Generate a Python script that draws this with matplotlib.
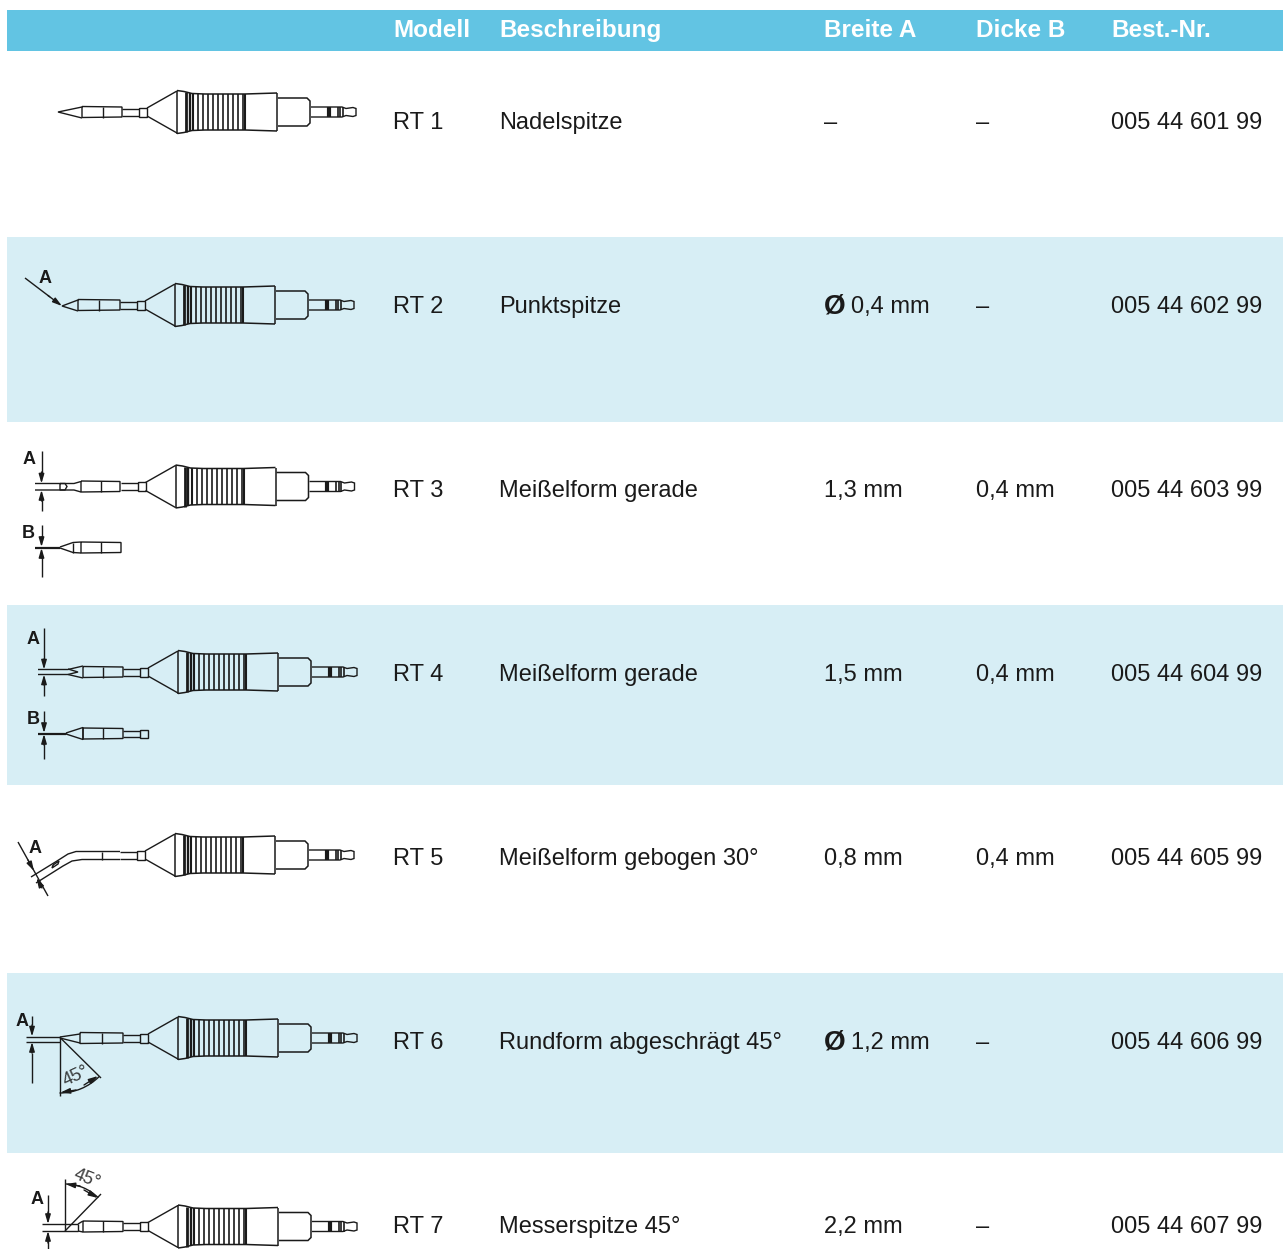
import numpy as np
import matplotlib
matplotlib.use('Agg')
import matplotlib.pyplot as plt
from matplotlib.patches import Arc

headers = ['Modell', 'Beschreibung', 'Breite A', 'Dicke B', 'Best.-Nr.']
modelle = ['RT 1', 'RT 2', 'RT 3', 'RT 4', 'RT 5', 'RT 6', 'RT 7']
beschreibung = ['Nadelspitze', 'Punktspitze', 'Meißelform gerade', 'Meißelform gerade',
                'Meißelform gebogen 30°', 'Rundform abgeschrägt 45°', 'Messerspitze 45°']
breite = ['–', 'Ø 0,4 mm', '1,3 mm', '1,5 mm', '0,8 mm', 'Ø 1,2 mm', '2,2 mm']
dicke = ['–', '–', '0,4 mm', '0,4 mm', '0,4 mm', '–', '–']
bestnr = ['005 44 601 99', '005 44 602 99', '005 44 603 99', '005 44 604 99',
          '005 44 605 99', '005 44 606 99', '005 44 607 99']

# layout in pixels of the page
col_x = [393, 499, 824, 976, 1111]
text_y = [129, 313, 497, 681, 865, 1049, 1233]
bands = [(237, 421.5), (605, 784.5), (973, 1152.5)]
tool_dx = [0, -2, -1.5, 1, -2, 1, 1]
tool_y = [112, 305, 486.5, 672, 855, 1038, 1226.5]

HEAD = '#62c4e3'
BAND = '#d7eef5'
INK = '#1a1a1a'
FONT = 'Liberation Sans'
SIZE = 17
LW = 1.0

fig = plt.figure(figsize=(12.86, 12.49), dpi=100)
ax = fig.add_axes([0, 0, 1, 1])
ax.set_xlim(0, 1286)
ax.set_ylim(1249, 0)
ax.axis('off')


def line(xs, ys, lw=LW, color=INK):
    ax.plot(xs, ys, color=color, lw=lw, solid_capstyle='butt', solid_joinstyle='miter')


def arrow(x0, y0, x1, y1):
    ax.annotate('', xy=(x1, y1), xytext=(x0, y0),
                arrowprops=dict(arrowstyle='-|>,head_length=0.55,head_width=0.16', color=INK,
                                lw=LW, shrinkA=0, shrinkB=0, mutation_scale=10))


def label(x, y, s):
    ax.text(x, y, s, family=FONT, weight='bold', fontsize=13, color=INK, ha='center', va='center')


def section(x0, x1, xm, cy, h=5.5):
    # the sleeve just behind the tip
    line([x0, x1, x1, x0, x0], [cy - h, cy - h + 0.5, cy + h - 0.5, cy + h, cy - h])
    line([xm, xm], [cy - h, cy + h])


def tool(dx, cy):
    # neck and collar
    line(np.array([122, 139]) + dx, [cy - 3.5, cy - 3.5])
    line(np.array([122, 139]) + dx, [cy + 3.5, cy + 3.5])
    line(np.array([139, 147, 147, 139, 139]) + dx, [cy - 4.5, cy - 4.5, cy + 4.5, cy + 4.5, cy - 4.5])
    # cone to the handle
    line(np.array([147, 177]) + dx, [cy - 4, cy - 21])
    line(np.array([147, 177]) + dx, [cy + 4, cy + 21])
    # handle outline
    hx = np.array([177, 184, 192, 205, 245, 277, 277])
    hh = np.array([21.5, 20.5, 18.5, 18, 18, 19, 19])
    line(hx + dx, cy - hh, lw=1.1)
    line(hx + dx, cy + hh, lw=1.1)
    line(np.array([177, 177]) + dx, [cy - 21.5, cy + 21.5], lw=1.1)
    line(np.array([277, 277]) + dx, [cy - 19, cy + 19], lw=1.1)
    # ribs
    rib_x = [186, 189.5, 193, 198, 203, 208, 213, 218, 223, 228, 233, 238, 243, 245]
    rib_w = [2.0, 1.7, 1.5, 1.2, 1.2, 1.2, 1.2, 1.2, 1.2, 1.2, 1.2, 1.2, 1.2, 1.5]
    for x, w in zip(rib_x, rib_w):
        h = np.interp(x, hx[:-1], hh[:-1])
        line([x + dx, x + dx], [cy - h, cy + h], lw=w)
    # body
    line(np.array([278, 307, 310, 310, 307, 278]) + dx,
         [cy - 14, cy - 14, cy - 11, cy + 11, cy + 14, cy + 14], lw=1.1)
    # plug
    line(np.array([311, 342, 346, 353, 356, 356, 353, 346, 342, 311]) + dx,
         [cy - 5, cy - 5, cy - 3.5, cy - 4.5, cy - 3.5, cy + 3.5, cy + 4.5, cy + 3.5, cy + 5, cy + 5])
    line(np.array([328.5, 328.5]) + dx, [cy - 5, cy + 5], lw=3)
    line(np.array([337.5, 337.5]) + dx, [cy - 5, cy + 5], lw=1.2)
    line(np.array([340, 340]) + dx, [cy - 5, cy + 5], lw=1.2)
    line(np.array([342.5, 342.5]) + dx, [cy - 5, cy + 5], lw=1.2)


# background bands
ax.fill_between([7, 1283], 10, 51, color=HEAD, lw=0)
for top, bottom in bands:
    ax.fill_between([7, 1283], top, bottom, color=BAND, lw=0)

# header row
for x, s in zip(col_x, headers):
    ax.text(x, 37, s, family=FONT, weight='bold', fontsize=17.5, color='white', ha='left', va='baseline')

# table body
for i in range(len(modelle)):
    y = text_y[i]
    kw = dict(family=FONT, fontsize=SIZE, color=INK, ha='left', va='baseline')
    ax.text(col_x[0], y, modelle[i], **kw)
    ax.text(col_x[1], y, beschreibung[i], **kw)
    if breite[i].startswith('Ø'):
        ax.text(col_x[2], y + 0.5, 'Ø', family=FONT, weight='bold', fontsize=SIZE + 3, color=INK,
                ha='left', va='baseline')
        ax.text(col_x[2] + 27, y, breite[i][2:], **kw)
    else:
        ax.text(col_x[2], y, breite[i], **kw)
    ax.text(col_x[3], y, dicke[i], **kw)
    ax.text(col_x[4], y, bestnr[i], **kw)
    tool(tool_dx[i], tool_y[i])

# RT 1 needle tip
cy = tool_y[0]
line([82, 58, 82], [cy - 5, cy, cy + 6])
section(82, 122, 103, cy)

# RT 2 point tip
cy = tool_y[1]
line([78, 62, 78], [cy - 5, cy + 1, cy + 6])
section(78, 120, 99, cy)
line([25, 50], [278, 297])
arrow(48, 295.5, 62, 306)
label(45, 278, 'A')

# RT 3 chisel, view A and B
cy = tool_y[2]
line([35, 74, 81], [cy - 3, cy - 3, cy - 5])
line([35, 74, 81], [cy + 3.5, cy + 3.5, cy + 5.5])
line([60, 65, 67, 65, 60, 60], [cy - 3, cy - 3, cy, cy + 3.5, cy + 3.5, cy - 3])
section(81, 120, 101, cy)
line([41.5, 41.5], [451, 476])
arrow(41.5, 472, 41.5, cy - 3)
line([41.5, 41.5], [497, 511])
arrow(41.5, 501, 41.5, cy + 3.5)
label(29, 459, 'A')
line([35, 60], [547.5, 547.5], lw=1.6)
line([60, 73, 81], [547, 542.5, 542])
line([60, 73, 81], [548, 552.5, 553])
section(81, 121, 101, 547.5)
line([73, 73], [542.5, 552.5])
line([41.5, 41.5], [525, 540])
arrow(41.5, 537, 41.5, 547)
line([41.5, 41.5], [555, 577])
arrow(41.5, 558, 41.5, 548)
label(28, 533, 'B')

# RT 4 chisel, view A and B
cy = tool_y[3]
line([38, 68, 83], [cy - 2.5, cy - 2.5, cy - 6])
line([38, 68, 83], [cy + 2.5, cy + 2.5, cy + 6])
line([68, 78, 68], [cy - 3, cy, cy + 2.5])
section(83, 123, 103, cy)
line([44, 44], [628, 660])
arrow(44, 659, 44, cy - 2.5)
line([44, 44], [682, 696])
arrow(44, 685, 44, cy + 2.5)
label(33, 639, 'A')
line([38, 66], [733.5, 733.5], lw=1.6)
line([66, 83, 83, 66], [733, 727.5, 739.5, 734])
section(83, 123, 103, 733.5)
line([123, 140], [730.5, 730.5])
line([123, 140], [737, 737])
line([140, 148, 148, 140, 140], [729.5, 729.5, 738, 738, 729.5])
line([44, 44], [711, 722])
arrow(44, 724, 44, 733)
line([44, 44], [743, 759])
arrow(44, 745, 44, 734)
label(33, 719, 'B')

# RT 5 bent tip
cy = tool_y[4]
line([31, 57, 68, 76, 120], [877, 861, 854, 851.5, 851.5])
line([36, 63, 72, 82, 120], [883, 866, 861, 859.5, 859.5])
line([102, 102], [851.5, 859.5])
line([53, 59, 58, 52, 53], [865, 861, 864, 868, 865])
line([18, 48], [842, 896])
arrow(28, 860, 34, 871)
arrow(42, 888, 36.5, 878)
label(35, 848, 'A')

# RT 6 bevelled round tip
cy = tool_y[5]
line([26, 60], [1036.5, 1036.5])
line([26, 60], [1042, 1042])
line([60, 80], [1037, 1034])
line([60, 80], [1038, 1043])
section(80, 123, 102, cy)
line([32, 32], [1016, 1025])
arrow(32, 1025, 32, 1036.5)
line([32, 32], [1053, 1083])
arrow(32, 1053, 32, 1042)
label(22, 1021, 'A')
line([59.5, 59.5], [1037, 1096])
line([59.5, 101], [1037, 1078])
ax.add_patch(Arc((59.5, 1037), 112, 112, theta1=45, theta2=90, color=INK, lw=LW))
arrow(76, 1090, 60.5, 1092.5)
arrow(84, 1085, 98, 1076)
ax.text(76, 1076, '45°', family=FONT, fontsize=13, color=INK, rotation=25,
        ha='center', va='center', alpha=0.85)

# RT 7 knife tip
cy = tool_y[6]
line([42, 78], [1224, 1224])
line([42, 78], [1231, 1231])
line([78, 83], [1224, 1221])
line([78, 83], [1231, 1232])
line([78, 78], [1224, 1231])
section(83, 123, 103, cy)
line([48, 48], [1195, 1214])
arrow(48, 1212, 48, 1224)
line([48, 48], [1240, 1249])
arrow(48, 1243, 48, 1231)
label(37, 1200, 'A')
line([65, 65], [1179, 1231])
line([65, 101], [1231, 1194])
ax.add_patch(Arc((65, 1231), 94, 94, theta1=-90, theta2=-45, color=INK, lw=LW))
arrow(80, 1186, 65.5, 1184)
arrow(84, 1190, 98, 1198)
ax.text(87, 1179, '45°', family=FONT, fontsize=13, color=INK, rotation=-22,
        ha='center', va='center', alpha=0.85)

fig.savefig('out.png', dpi=100)
